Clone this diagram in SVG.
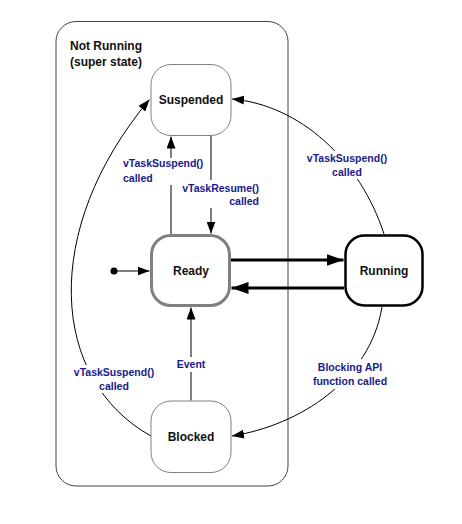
<svg xmlns="http://www.w3.org/2000/svg" width="462" height="524" viewBox="0 0 462 524">
<style>
.state{fill:#ffffff;stroke:#808080;stroke-width:1}
.name{font-family:"Liberation Sans",Arial,sans-serif;font-weight:bold;font-size:12px;fill:#111111}
.lbl{font-family:"Liberation Sans",Arial,sans-serif;font-weight:bold;font-size:10.5px;fill:#1a1a8a}
.conn{fill:none;stroke:#000000;stroke-width:1}
.thick{fill:none;stroke:#000000;stroke-width:3}
.bg{fill:#ffffff}
</style>
<defs>
<marker id="arr" markerUnits="userSpaceOnUse" markerWidth="12" markerHeight="9" refX="12" refY="4.5" orient="auto">
<path d="M0,0 L12,4.5 L0,9 z" fill="#000000"/>
</marker>
<marker id="arrBig" markerUnits="userSpaceOnUse" markerWidth="17" markerHeight="12" refX="17" refY="6" orient="auto">
<path d="M0,0 L17,6 L0,12 z" fill="#000000"/>
</marker>
</defs>
<rect width="462" height="524" fill="#ffffff"/>
<g id="superstate">
<rect x="56" y="21.5" width="232" height="464.5" rx="20" ry="20" fill="none" stroke="#444444" stroke-width="1"/>
<text class="name" x="70" y="50">Not Running</text>
<text class="name" x="70" y="66">(super state)</text>
</g>
<g id="connectors">
<path class="conn" d="M171,234 L171,136.5" marker-end="url(#arr)"/>
<path class="conn" d="M211,136 L211,233.5" marker-end="url(#arr)"/>
<path class="thick" d="M231,260 L343.5,260" marker-end="url(#arrBig)"/>
<path class="thick" d="M344,288 L231.5,288" marker-end="url(#arrBig)"/>
<circle cx="114" cy="271" r="3.5" fill="#000000"/>
<path class="conn" d="M114,271 L149.5,271" marker-end="url(#arr)"/>
<path class="conn" d="M191,400.5 L191,307.5" marker-end="url(#arr)"/>
<path class="conn" d="M151,436 C50,380 40,230 149.5,99.5" marker-end="url(#arr)"/>
<path class="conn" d="M384,234 C360,160 300,105 232,99" marker-end="url(#arr)"/>
<path class="conn" d="M382,307 C370,380 300,425 232,436" marker-end="url(#arr)"/>
</g>
<g id="labels">
<rect class="bg" x="121" y="158" width="84" height="27"/>
<text class="lbl" x="123" y="167">vTaskSuspend()</text>
<text class="lbl" x="123" y="182">called</text>
<rect class="bg" x="183" y="180" width="78" height="28"/>
<text class="lbl" x="259" y="192" text-anchor="end">vTaskResume()</text>
<text class="lbl" x="259" y="205" text-anchor="end">called</text>
<rect class="bg" x="305" y="151" width="84" height="28"/>
<text class="lbl" x="347" y="162" text-anchor="middle">vTaskSuspend()</text>
<text class="lbl" x="347" y="176" text-anchor="middle">called</text>
<rect class="bg" x="72" y="365" width="84" height="28"/>
<text class="lbl" x="114" y="376" text-anchor="middle">vTaskSuspend()</text>
<text class="lbl" x="114" y="390" text-anchor="middle">called</text>
<rect class="bg" x="174" y="357" width="34" height="15"/>
<text class="lbl" x="191" y="368" text-anchor="middle">Event</text>
<rect class="bg" x="308" y="359" width="84" height="30"/>
<text class="lbl" x="350" y="371" text-anchor="middle">Blocking API</text>
<text class="lbl" x="350" y="385" text-anchor="middle">function called</text>
</g>
<g id="suspended">
<rect class="state" x="151" y="64.5" width="80" height="71" rx="20" ry="20"/>
<text class="name" x="191" y="104" text-anchor="middle">Suspended</text>
</g>
<g id="ready">
<rect x="151.5" y="235.5" width="78" height="70" rx="19" ry="19" fill="#ffffff" stroke="#808080" stroke-width="3"/>
<text class="name" x="191" y="275" text-anchor="middle">Ready</text>
</g>
<g id="running">
<rect x="345.5" y="235.5" width="77" height="70" rx="19" ry="19" fill="#ffffff" stroke="#000000" stroke-width="2.5"/>
<text class="name" x="384" y="275" text-anchor="middle">Running</text>
</g>
<g id="blocked">
<rect class="state" x="151" y="401" width="80" height="71.5" rx="20" ry="20"/>
<text class="name" x="191" y="441" text-anchor="middle">Blocked</text>
</g>
</svg>
